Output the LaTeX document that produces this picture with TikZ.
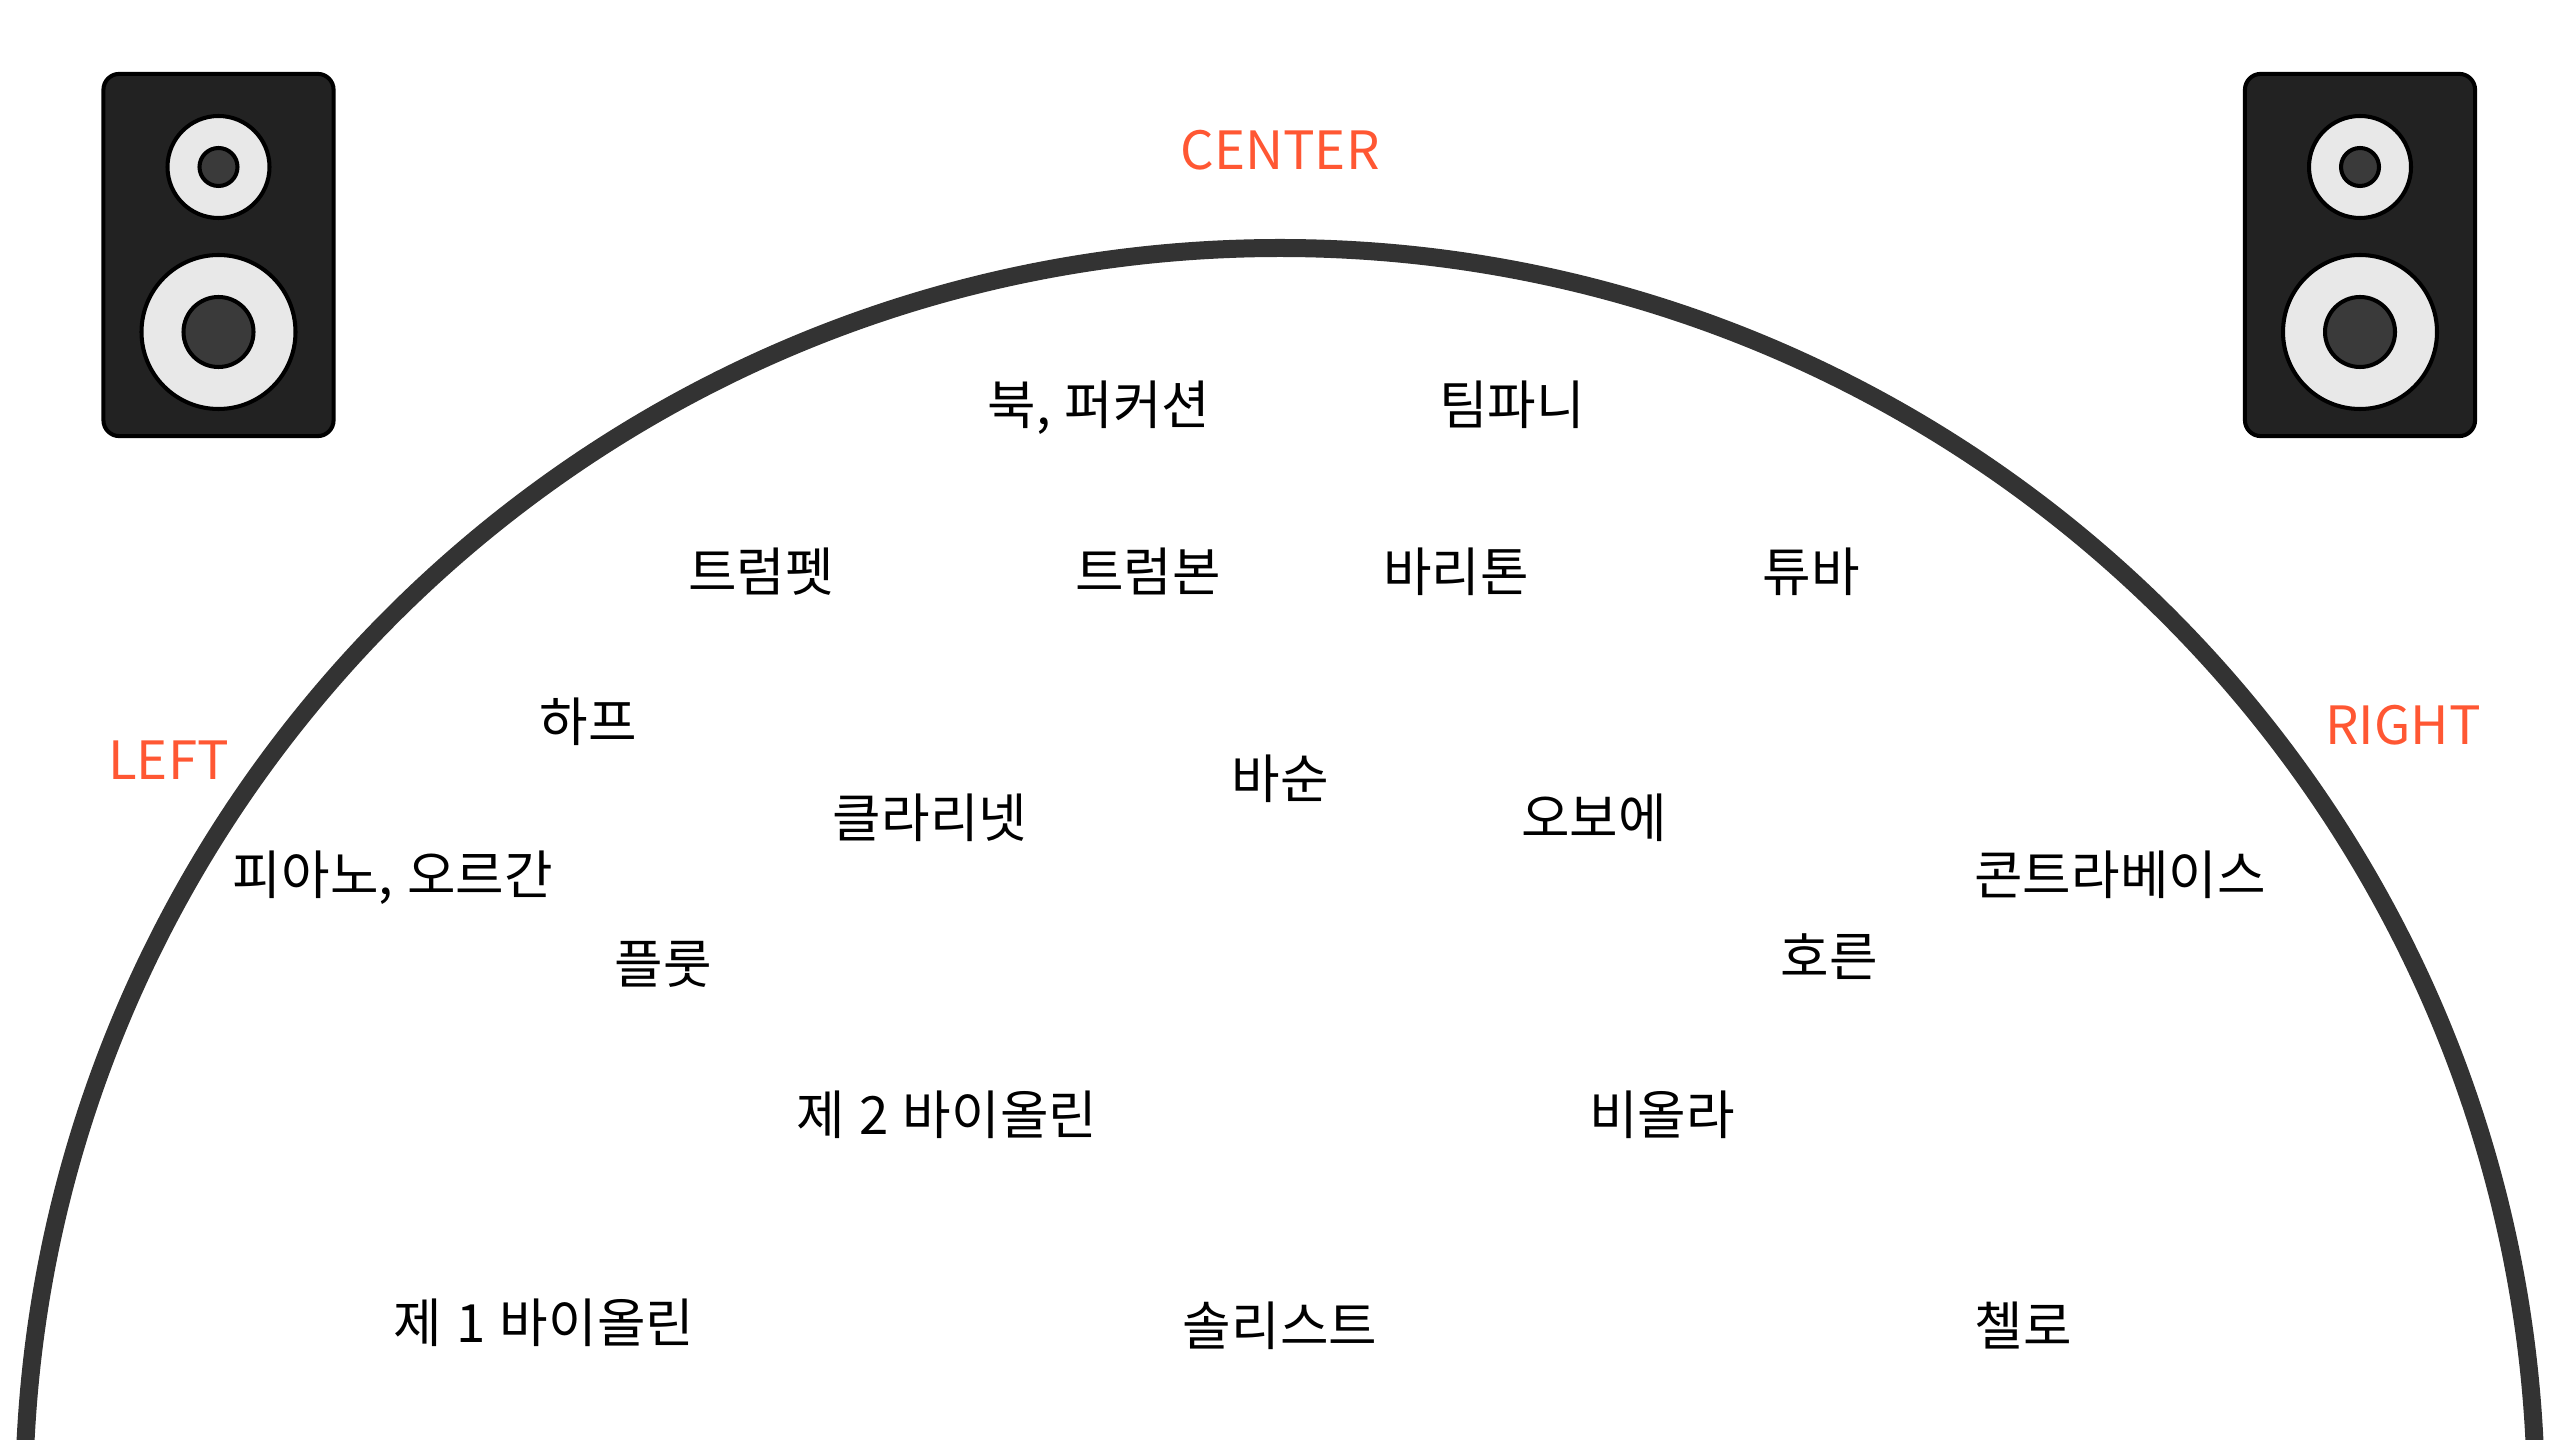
\documentclass[tikz,border=0pt]{standalone}
\usepackage{fontspec}
\setmainfont[WordSpace=1.2]{Noto Sans CJK KR}
\usetikzlibrary{positioning}
\definecolor{halldark}{HTML}{333333}
\definecolor{cabinet}{HTML}{222222}
\definecolor{conelight}{HTML}{E8E8E8}
\definecolor{conedark}{HTML}{3A3A3A}
\definecolor{sidered}{HTML}{FF5733}
\tikzset{
  hall/.style={line width=5.12pt,halldark},
  cabinetv/.style={rectangle,draw=black,fill=cabinet,line width=1.15pt,rounded corners=4.5pt,minimum width=2.3cm,minimum height=3.62cm,inner sep=0pt},
  outer/.style={draw=black,fill=conelight,line width=1.15pt},
  inner/.style={draw=black,fill=conedark,line width=1.15pt},
  instr/.style={font=\fontsize{15}{18}\selectfont,inner sep=0pt,text height=12pt,text depth=0pt},
  side/.style={font=\fontsize{15}{18}\selectfont,inner sep=0pt,text=sidered,text height=11.1pt,text depth=0pt}
}
\begin{document}
\begin{tikzpicture}[x=.01cm,y=-.01cm]
  \useasboundingbox (0,0) rectangle (2560,1440);
  \begin{scope}
    \clip (0,0) rectangle (2560,1440);
    \draw[hall] (1280,1504) circle (1256);
  \end{scope}
  % speakers
  \foreach \sx/\sname in {218.5/spkl,2360/spkr} {
    \node[cabinetv] (\sname) at (\sx,255) {};
    \draw[outer] (\sx,167) circle (51);
    \draw[inner] (\sx,167) circle (19);
    \draw[outer] (\sx,332) circle (77);
    \draw[inner] (\sx,332) circle (35);
  }
  \node[side] (center) at (1280,150) {CENTER};
  \node[side] (left) at (168.5,760) {LEFT};
  \node[side] (right) at (2403,725) {RIGHT};
  % back row
  \node[instr] (drum) at (1099,403) {북, 퍼커션};
  \node[instr] (timp) at (1512,403) {팀파니};
  \node[instr] (trpt) at (761,570) {트럼펫};
  \node[instr] (trbn) at (1148,570) {트럼본};
  \node[instr] (bari) at (1456,570) {바리톤};
  \node[instr] (tuba) at (1811,570) {튜바};
  % middle
  \node[instr] (harp) at (588,720) {하프};
  \node[instr] (bsn) at (1280,777) {바순};
  \node[instr] (clar) at (930,816) {클라리넷};
  \node[instr] (oboe) at (1594,816) {오보에};
  \node[instr] (pno) at (393,873) {피아노, 오르간};
  \node[instr] (cb) at (2120,873) {콘트라베이스};
  \node[instr] (fl) at (663,962) {플룻};
  \node[instr] (hn) at (1829,955) {호른};
  % strings
  \node[instr] (vn2) at (947,1113) {제 2 바이올린};
  \node[instr] (va) at (1662,1113) {비올라};
  \node[instr] (vn1) at (544,1321) {제 1 바이올린};
  \node[instr] (solo) at (1280,1324) {솔리스트};
  \node[instr] (vc) at (2023,1324) {첼로};
\end{tikzpicture}
\end{document}
